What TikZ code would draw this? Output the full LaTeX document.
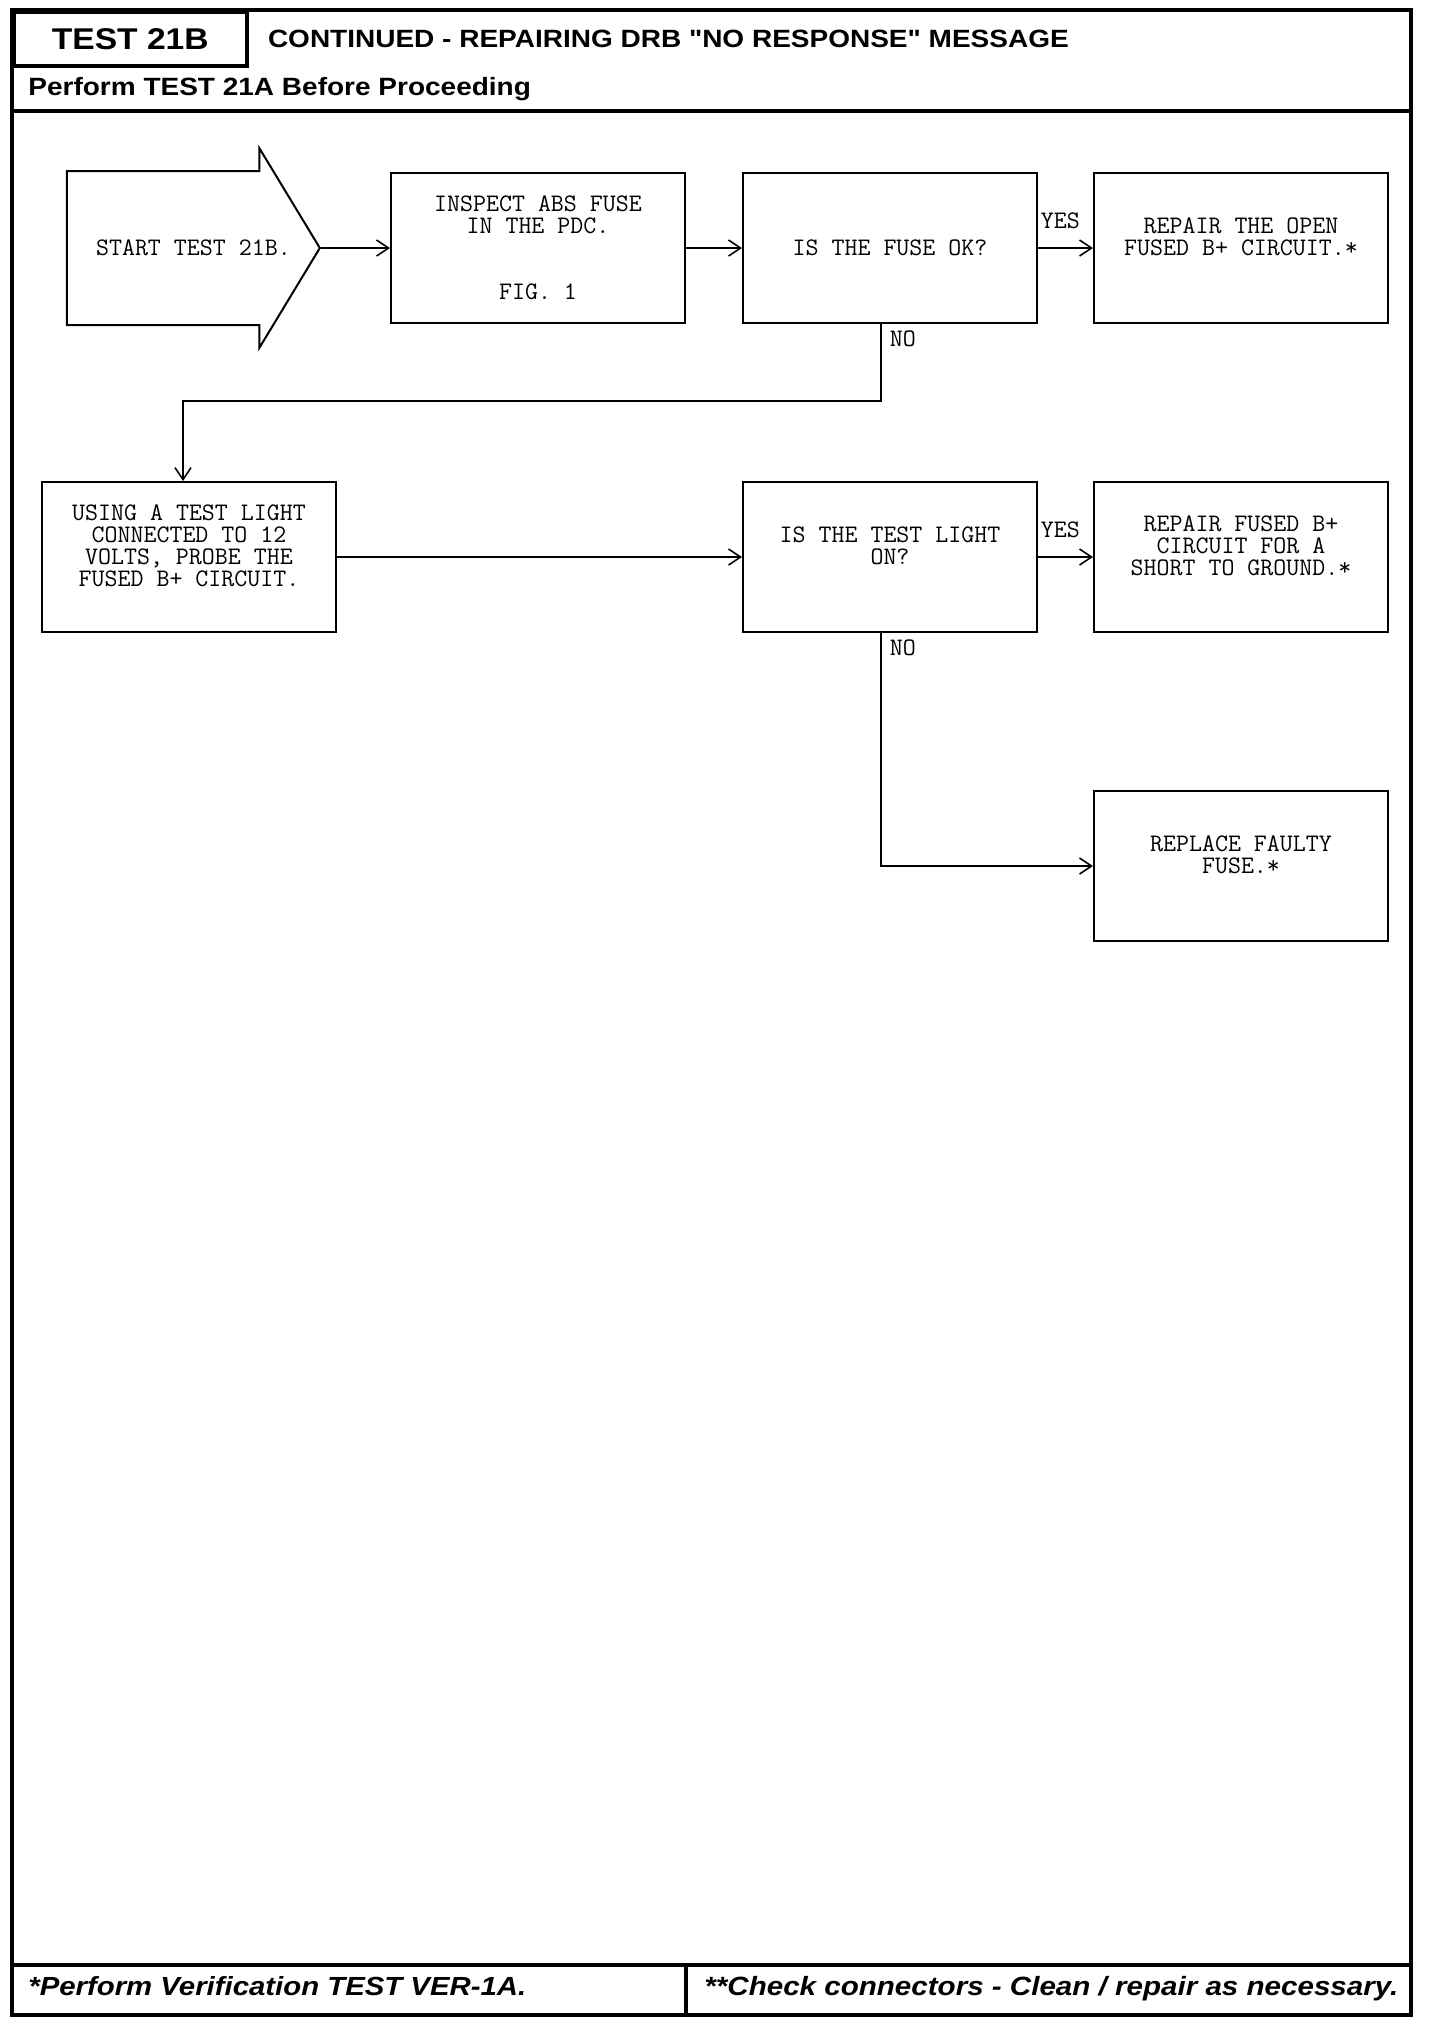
\documentclass[tikz,border=0pt]{standalone}
\usepackage{fontspec}
\setmainfont{Liberation Sans}
\newfontfamily\headfont[FakeStretch=1.12]{Liberation Sans}
\usetikzlibrary{arrows.meta,positioning,shapes.arrows,calc}

\begin{document}
\begin{tikzpicture}[x=0.5pt,y=0.5pt,>={Straight Barb[length=6pt,width=8pt]},font=\ttfamily\fontsize{12.6}{11}\selectfont]
\tikzset{stepbox/.style={draw,line width=1pt,align=center,minimum width=147pt,minimum height=75pt,inner sep=0pt}}
\tikzset{startarrow/.style={draw,single arrow,line width=1pt,minimum height=126.5pt,minimum width=99pt,single arrow head extend=11.5pt,single arrow tip angle=117.6,inner xsep=0pt,inner ysep=34pt,text height=8pt,text depth=0pt}}
\tikzset{link/.style={->,line width=0.8pt}}
\tikzset{yeslabel/.style={anchor=south west,inner sep=1pt,yshift=8pt}}
\tikzset{nolabel/.style={anchor=north west,inner sep=1pt,xshift=3pt,yshift=-2pt}}
\tikzset{frame/.style={line width=1.8pt}}
\useasboundingbox (0,0) rectangle (1440,-2026);
\draw[frame] (12,-10) rectangle (1411,-2015);
\draw[frame] (12,-111) -- (1411,-111);
\draw[frame] (12,-1965) -- (1411,-1965);
\draw[frame] (686,-1965) -- (686,-2015);
\node[draw,frame,anchor=north west,minimum width=116.5pt,minimum height=27pt,font=\headfont\bfseries\fontsize{15}{15}\selectfont] (testno) at (12,-10) {TEST 21B};
\node[anchor=west,inner sep=0pt,right=9.5pt of testno,font=\headfont\bfseries\fontsize{12.5}{12.5}\selectfont] (title) {CONTINUED - REPAIRING DRB "NO RESPONSE" MESSAGE};
\node[anchor=base west,inner sep=0pt,font=\headfont\bfseries\fontsize{12.5}{12.5}\selectfont] (before) at (28,-95) {Perform TEST 21A Before Proceeding};
\node[anchor=base west,inner sep=0pt,font=\headfont\bfseries\itshape\fontsize{13.1}{13.1}\selectfont] (verify) at (28,-1995) {*Perform Verification TEST VER-1A.};
\node[anchor=base west,inner sep=0pt,font=\headfont\bfseries\itshape\fontsize{13.2}{13.2}\selectfont] (check) at (704,-1995) {**Check connectors - Clean / repair as necessary.};
\node[stepbox] (inspect) at (538,-248) {INSPECT ABS FUSE\\IN THE PDC.\\~\\~\\FIG. 1};
\node[startarrow,left=34.5pt of inspect] (start) {};
\node (starttext) at ($(start.tail)!0.5!(start.tip)$) {START TEST 21B.};
\node[stepbox,right=28pt of inspect] (fuse) {IS THE FUSE OK?};
\node[stepbox,right=27.5pt of fuse] (open) {REPAIR THE OPEN\\FUSED B+ CIRCUIT.*\\~};
\node[stepbox,below=78.5pt of fuse] (light) {IS THE TEST LIGHT\\ON?\\~};
\node[stepbox,right=27.5pt of light] (short) {REPAIR FUSED B+\\CIRCUIT FOR A\\SHORT TO GROUND.*\\~};
\node[stepbox,left=202.5pt of light] (using) {USING A TEST LIGHT\\CONNECTED TO 12\\VOLTS, PROBE THE\\FUSED B+ CIRCUIT.\\~};
\node[stepbox,below=78.5pt of short] (replace) {REPLACE FAULTY\\FUSE.*\\~};
\draw[link] (start.tip) -- (inspect);
\draw[link] (inspect) -- (fuse);
\draw[link] (fuse) -- node[yeslabel,pos=0] {YES} (open);
\draw[link] ([xshift=-4.5pt]fuse.south) -- node[nolabel,pos=0] {NO} ++(0,-77) -| ([xshift=-3pt]using.north);
\draw[link] (using) -- (using -| light.west);
\draw[link] (light) -- node[yeslabel,pos=0] {YES} (short);
\draw[link] ([xshift=-4.5pt]light.south) -- node[nolabel,pos=0] {NO} ([xshift=-4.5pt]light.south |- replace.west) -- (replace.west);
\end{tikzpicture}
\end{document}
